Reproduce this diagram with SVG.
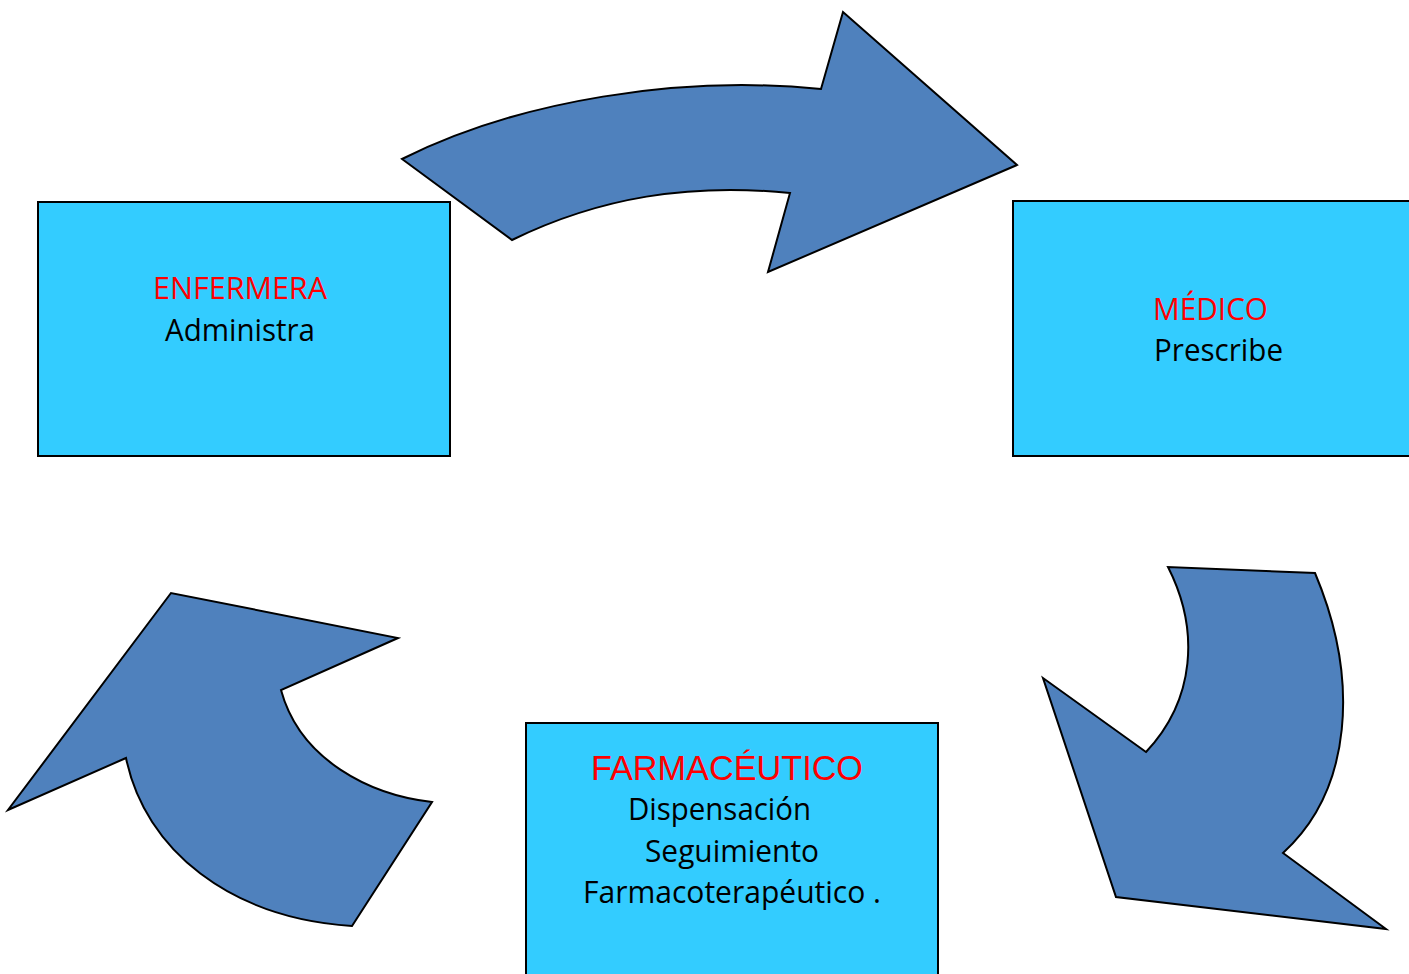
<svg xmlns="http://www.w3.org/2000/svg" width="1409" height="974" viewBox="0 0 1409 974">
<style>
.box{fill:#33CCFF;stroke:#000;stroke-width:2}
.arr{fill:#4F81BD;stroke:#000;stroke-width:2;stroke-linejoin:miter}
.t{font-family:"Open Sans","Noto Sans",sans-serif;font-size:31px;fill:#000}
.r{fill:#FF0000}
.a{font-family:"Liberation Sans",Arial,sans-serif;font-size:35px;fill:#FF0000}
</style>
<rect width="1409" height="974" fill="#fff"/>
<g id="connectors">
<path id="arrow-top" class="arr" d="M402,159 C520,100 680,75 821,89 L843,12 L1017,165 L768,272 L790,193 C690,183 600,197 512,240 Z"/>
<path id="arrow-right" class="arr" d="M1315,573 C1360,680 1352,790 1283,853 L1386,929 L1116,897 L1043,678 L1146,752 C1195,700 1200,630 1168,567 Z"/>
<path id="arrow-left" class="arr" d="M352,926 C230,918 145,850 126,758 L8,810 L171,593 L398,638 L281,690 C300,760 370,795 432,802 Z"/>
</g>
<g id="enfermera">
<rect class="box" x="38" y="202" width="412" height="254"/>
<text class="t r" x="153" y="299" textLength="174" lengthAdjust="spacingAndGlyphs">ENFERMERA</text>
<text class="t" x="165" y="341" textLength="150" lengthAdjust="spacingAndGlyphs">Administra</text>
</g>
<g id="medico">
<rect class="box" x="1013" y="201" width="410" height="255"/>
<text class="t r" x="1153" y="320" textLength="115" lengthAdjust="spacingAndGlyphs">MÉDICO</text>
<text class="t" x="1154" y="361" textLength="129" lengthAdjust="spacingAndGlyphs">Prescribe</text>
</g>
<g id="farmaceutico">
<rect class="box" x="526" y="723" width="412" height="262"/>
<text class="a" x="591" y="780" textLength="272" lengthAdjust="spacingAndGlyphs">FARMACÉUTICO</text>
<text class="t" x="628" y="820" textLength="183" lengthAdjust="spacingAndGlyphs">Dispensación</text>
<text class="t" x="645" y="862" textLength="174" lengthAdjust="spacingAndGlyphs">Seguimiento</text>
<text class="t" x="583" y="903" textLength="298" lengthAdjust="spacingAndGlyphs">Farmacoterapéutico .</text>
</g>
</svg>
